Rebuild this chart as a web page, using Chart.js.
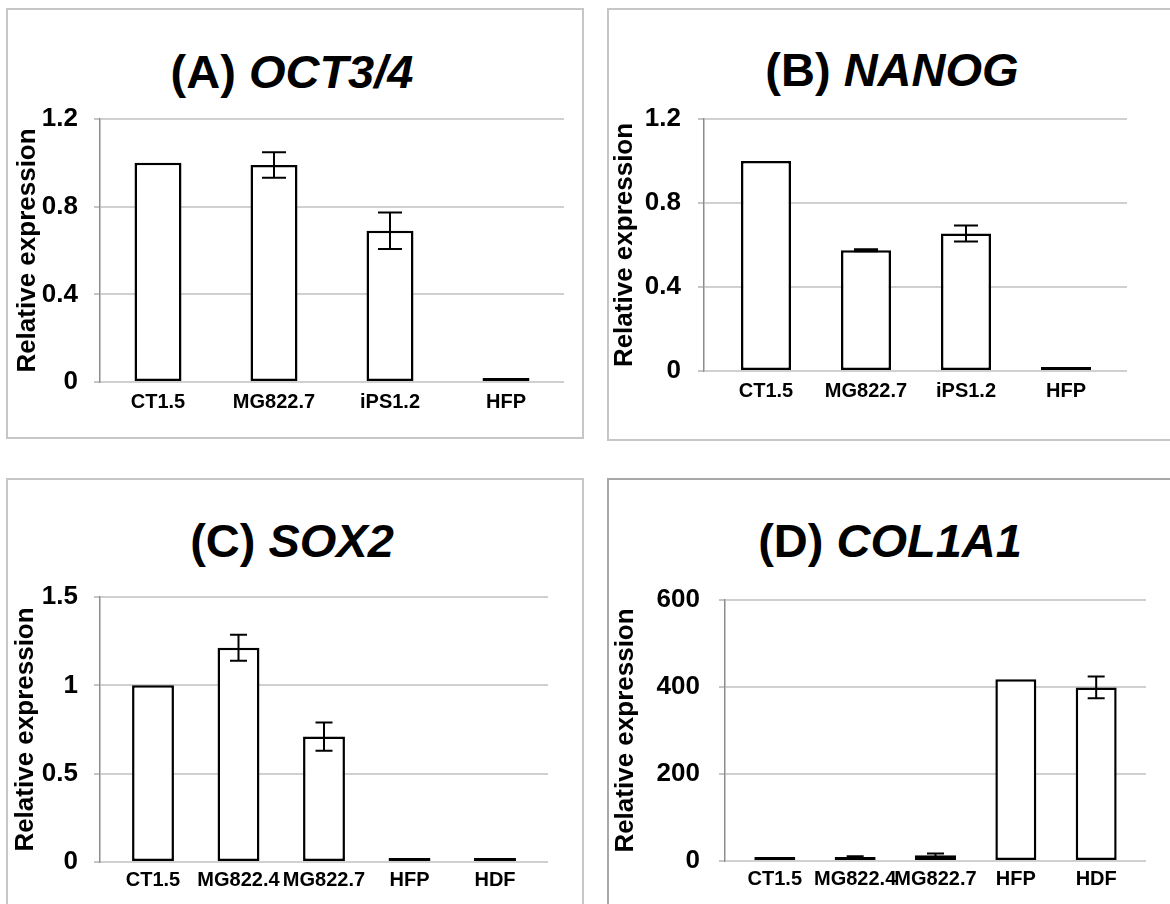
<!DOCTYPE html>
<html>
<head>
<meta charset="utf-8">
<script src="https://cdn.jsdelivr.net/npm/chart.js@4/dist/chart.umd.min.js"></script>
<style>
  html, body { margin: 0; padding: 0; background: #fff; overflow: hidden; }
  body { width: 1170px; height: 904px; position: relative; font-family: "Liberation Sans", Arial, sans-serif; }
  .box { position: absolute; box-sizing: border-box; border: 2px solid #c6c6c6; background: #fff; }
  .boxD { border-color: #a8a8a8; }
  canvas { position: absolute; }
  .ttl { position: absolute; width: 600px; text-align: center; font-weight: bold; font-size: 47px; line-height: 47px; color: #000; white-space: nowrap; }
  .ttl i { font-style: italic; }
</style>
</head>
<body>
<div class="box" style="left:6px;top:8px;width:578px;height:431px;"></div>
<div class="box" style="left:607px;top:8px;width:600px;height:433px;"></div>
<div class="box" style="left:6px;top:478px;width:578px;height:500px;"></div>
<div class="box boxD" style="left:607px;top:478px;width:600px;height:500px;"></div>

<div class="ttl" style="left:-8px;top:48px;">(A) <i>OCT3/4</i></div>
<div class="ttl" style="left:592px;top:46px;">(B) <i>NANOG</i></div>
<div class="ttl" style="left:-8px;top:517px;">(C) <i>SOX2</i></div>
<div class="ttl" style="left:590px;top:517px;">(D) <i>COL1A1</i></div>

<canvas id="cA" width="574" height="428" style="left:8px;top:10px;width:574px;height:428px;"></canvas>
<canvas id="cB" width="561" height="428" style="left:609px;top:10px;width:561px;height:428px;"></canvas>
<canvas id="cC" width="574" height="424" style="left:8px;top:480px;width:574px;height:424px;"></canvas>
<canvas id="cD" width="561" height="424" style="left:609px;top:480px;width:561px;height:424px;"></canvas>

<script>
// ---- Data ----
const categoriesA = ['CT1.5', 'MG822.7', 'iPS1.2', 'HFP'];
const valuesA = [1.0, 0.99, 0.69, 0.002];
const errorsA = [0, 0.058, 0.083, 0];
const yTicksA = [0, 0.4, 0.8, 1.2];

const categoriesB = ['CT1.5', 'MG822.7', 'iPS1.2', 'HFP'];
const valuesB = [1.0, 0.575, 0.655, 0.002];
const errorsB = [0, 0.005, 0.038, 0];
const yTicksB = [0, 0.4, 0.8, 1.2];

const categoriesC = ['CT1.5', 'MG822.4', 'MG822.7', 'HFP', 'HDF'];
const valuesC = [1.0, 1.213, 0.71, 0.003, 0.003];
const errorsC = [0, 0.074, 0.08, 0, 0];
const yTicksC = [0, 0.5, 1, 1.5];

const categoriesD = ['CT1.5', 'MG822.4', 'MG822.7', 'HFP', 'HDF'];
const valuesD = [1, 9, 13, 418, 399];
const errorsD = [0, 2, 4, 0, 25];
const yTicksD = [0, 200, 400, 600];

const yAxisTitle = 'Relative expression';

// ---- Defaults ----
Chart.defaults.font.family = '"Liberation Sans", Arial, sans-serif';
Chart.defaults.color = '#000';

const errorBarPlugin = {
  id: 'errorBars',
  afterDatasetsDraw(chart, args, opts) {
    const ds = chart.data.datasets[0];
    const errs = ds.errors || [];
    const meta = chart.getDatasetMeta(0);
    const yScale = chart.scales.y;
    const ctx = chart.ctx;
    ctx.save();
    ctx.strokeStyle = opts.color || '#000';
    ctx.lineWidth = opts.width || 2;
    meta.data.forEach((bar, i) => {
      const e = errs[i];
      if (!e) return;
      const v = ds.data[i].y;
      const yt = yScale.getPixelForValue(v + e);
      const yb = yScale.getPixelForValue(v - e);
      const x = bar.x;
      const h = (opts.capWidth || 16) / 2;
      ctx.beginPath();
      ctx.moveTo(x, yt); ctx.lineTo(x, yb);
      ctx.moveTo(x - h, yt); ctx.lineTo(x + h, yt);
      ctx.moveTo(x - h, yb); ctx.lineTo(x + h, yb);
      ctx.stroke();
    });
    ctx.restore();
  }
};

function makeChart(id, cats, vals, errs, yTicks, cfg) {
  const data = vals.map((v, i) => ({ x: i, y: v }));
  return new Chart(document.getElementById(id), {
    type: 'bar',
    data: {
      datasets: [{
        data: data,
        errors: errs,
        backgroundColor: '#ffffff',
        borderColor: '#000000',
        borderWidth: 2.5,
        borderSkipped: false,
        minBarLength: 4,
        barPercentage: cfg.barPct,
        categoryPercentage: 1
      }]
    },
    options: {
      responsive: false,
      maintainAspectRatio: false,
      animation: false,
      events: [],
      layout: { padding: { left: 0, top: cfg.padT, right: cfg.padR, bottom: cfg.padB } },
      plugins: {
        legend: { display: false },
        tooltip: { enabled: false },
        errorBars: { color: '#000', width: 2, capWidth: cfg.cap }
      },
      scales: {
        x: {
          type: 'linear',
          offset: false,
          min: cfg.xmin,
          max: cfg.xmax,
          grid: { display: false, drawTicks: false, offset: false },
          border: { display: false },
          afterBuildTicks: (s) => { s.ticks = cats.map((c, i) => ({ value: i })); },
          afterFit: (s) => { s.height = 40; },
          ticks: {
            autoSkip: false, maxRotation: 0, minRotation: 0,
            padding: cfg.xPad,
            font: { size: 20, weight: 'bold' },
            color: '#000',
            callback: (v) => cats[v]
          }
        },
        y: {
          min: yTicks[0],
          max: yTicks[yTicks.length - 1],
          afterBuildTicks: (s) => { s.ticks = yTicks.map(v => ({ value: v })); },
          afterFit: (s) => { s.width = cfg.yW; },
          grid: {
            color: '#d0d0d0', lineWidth: 2,
            drawTicks: true, tickLength: 6, tickColor: '#8c8c8c', tickWidth: 1
          },
          border: { display: true, color: '#8c8c8c', width: 1.5 },
          ticks: {
            padding: cfg.tickPad,
            font: { size: 26, weight: 'bold' },
            color: '#000',
            callback: (v) => String(v)
          },
          title: {
            display: true,
            text: yAxisTitle,
            color: '#000',
            font: { size: 26, weight: 'bold' },
            padding: { top: cfg.titlePad, bottom: 0 }
          }
        }
      }
    },
    plugins: [errorBarPlugin]
  });
}

makeChart('cA', categoriesA, valuesA, errorsA, yTicksA,
  { yW: 92, padR: 18, padT: 109, padB: 16, tickPad: 16, titlePad: 4, xmin: -0.5, xmax: 3.5, barPct: 0.405, cap: 24, xPad: 8 });
makeChart('cB', categoriesB, valuesB, errorsB, yTicksB,
  { yW: 95, padR: 43, padT: 109, padB: 27, tickPad: 17, titlePad: 0.5, xmin: -0.62, xmax: 3.61, barPct: 0.5, cap: 24, xPad: 8 });
makeChart('cC', categoriesC, valuesC, errorsC, yTicksC,
  { yW: 92, padR: 34, padT: 117, padB: 2, tickPad: 16, titlePad: 2.5, xmin: -0.62, xmax: 4.62, barPct: 0.49, cap: 17, xPad: 6 });
makeChart('cD', categoriesD, valuesD, errorsD, yTicksD,
  { yW: 116, padR: 24, padT: 120, padB: 3, tickPad: 19, titlePad: 1.5, xmin: -0.62, xmax: 4.62, barPct: 0.51, cap: 17, xPad: 6 });
</script>
</body>
</html>
